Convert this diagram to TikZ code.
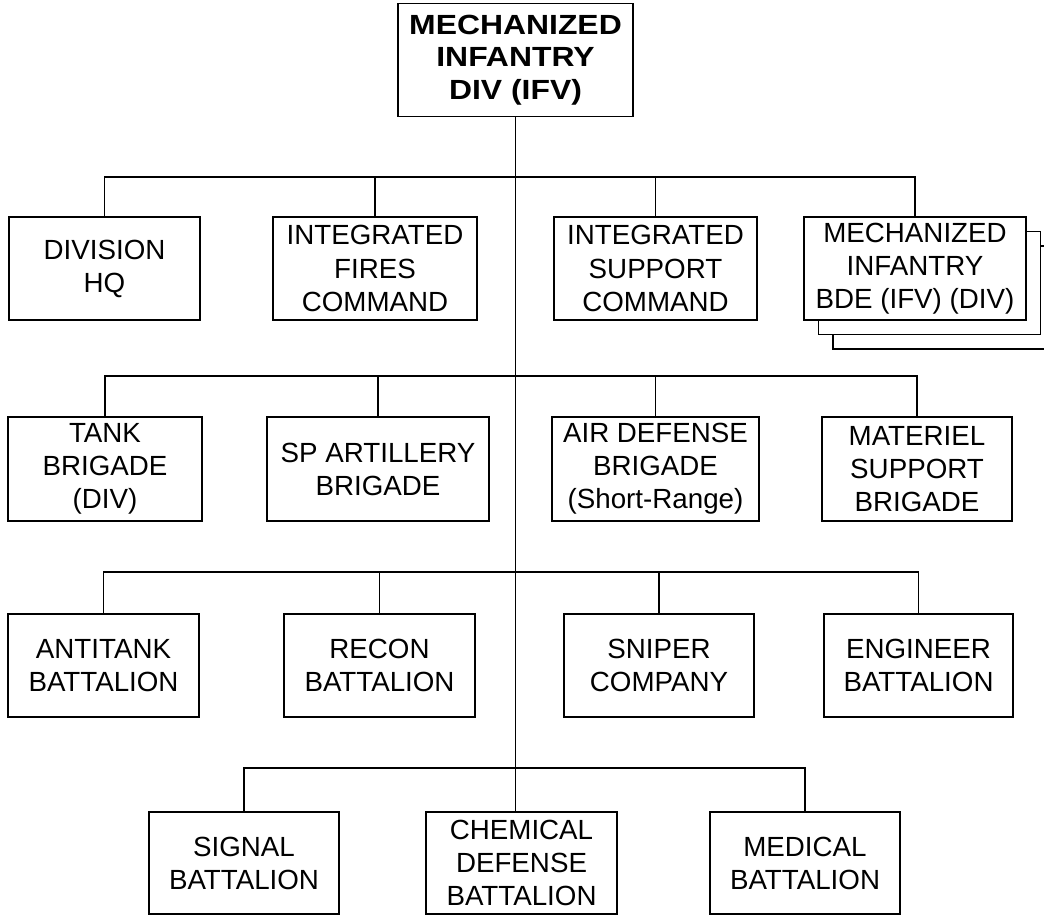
\documentclass[tikz,border=0pt]{standalone}
\usepackage{fontspec}
\setmainfont{Liberation Sans}
\newfontfamily\topfont[FakeStretch=1.15]{Liberation Sans}
\usetikzlibrary{positioning,shadows}
\tikzset{
  unit/.style={draw,line width=1.2pt,align=center,inner sep=0pt,fill=white,
    font=\fontsize{20.8}{24.8}\selectfont},
  dims/.style 2 args={minimum width=#1*0.75pt,minimum height=#2*0.75pt},
  link/.style={line width=1.2pt},
}

\begin{document}
\begin{tikzpicture}[x=0.75pt,y=-0.75pt]
\useasboundingbox (0,0) rectangle (1044,916);
% --- division ---
\node[unit,dims={235}{113},font=\topfont\bfseries\fontsize{20.8}{24.2}\selectfont] (div) at (515.5,60) {MECHANIZED\\INFANTRY\\DIV (IFV)};
% --- first row ---
\node[unit,dims={191}{103}] (hq) at (104.5,268.5) {DIVISION\\HQ};
\node[unit,dims={204}{103}] (fires) at (375,268.5) {INTEGRATED\\FIRES\\COMMAND};
\node[unit,dims={203}{103}] (support) at (655.5,268.5) {INTEGRATED\\SUPPORT\\COMMAND};
\node[unit,dims={222}{103},double copy shadow={shadow xshift=10.9pt,shadow yshift=-10.9pt,draw=black,fill=white,line width=1.2pt}] (mib) at (915,268.5) {MECHANIZED\\INFANTRY\\BDE (IFV) (DIV)};
% --- second row ---
\node[unit,dims={194}{104}] (tank) at (105,469) {TANK\\BRIGADE\\(DIV)};
\node[unit,dims={222}{104}] (spart) at (378,469) {SP ARTILLERY\\BRIGADE};
\node[unit,dims={207}{104}] (airdef) at (655.5,469) {AIR DEFENSE\\BRIGADE\\(Short-Range)};
\node[unit,dims={190}{104}] (materiel) at (917,469) {MATERIEL\\SUPPORT\\BRIGADE};
% --- third row ---
\node[unit,dims={191}{103}] (antitank) at (103.5,665.5) {ANTITANK\\BATTALION};
\node[unit,dims={191}{103}] (recon) at (379.5,665.5) {RECON\\BATTALION};
\node[unit,dims={190}{103}] (sniper) at (659,665.5) {SNIPER\\COMPANY};
\node[unit,dims={189}{103}] (engineer) at (918.5,665.5) {ENGINEER\\BATTALION};
% --- fourth row ---
\node[unit,dims={190}{102}] (signal) at (244,863) {SIGNAL\\BATTALION};
\node[unit,dims={191}{102}] (chem) at (521.5,863) {CHEMICAL\\DEFENSE\\BATTALION};
\node[unit,dims={190}{102}] (medical) at (805,863) {MEDICAL\\BATTALION};
% --- connectors ---
\coordinate (bus1) at (515.5,177);
\coordinate (bus2) at (515.5,376);
\coordinate (bus3) at (515.5,572);
\coordinate (bus4) at (515.5,768);
\draw[link] (div.south) -- (div.south |- chem.north);
\draw[link] (hq.north) |- (bus1) -| (mib.north);
\draw[link] (tank.north) |- (bus2) -| (materiel.north);
\draw[link] (antitank.north) |- (bus3) -| (engineer.north);
\draw[link] (signal.north) |- (bus4) -| (medical.north);
\foreach \n/\b in {fires/bus1,support/bus1,spart/bus2,airdef/bus2,recon/bus3,sniper/bus3}
  \draw[link] (\n.north) -- (\n.north |- \b);
\end{tikzpicture}
\end{document}
